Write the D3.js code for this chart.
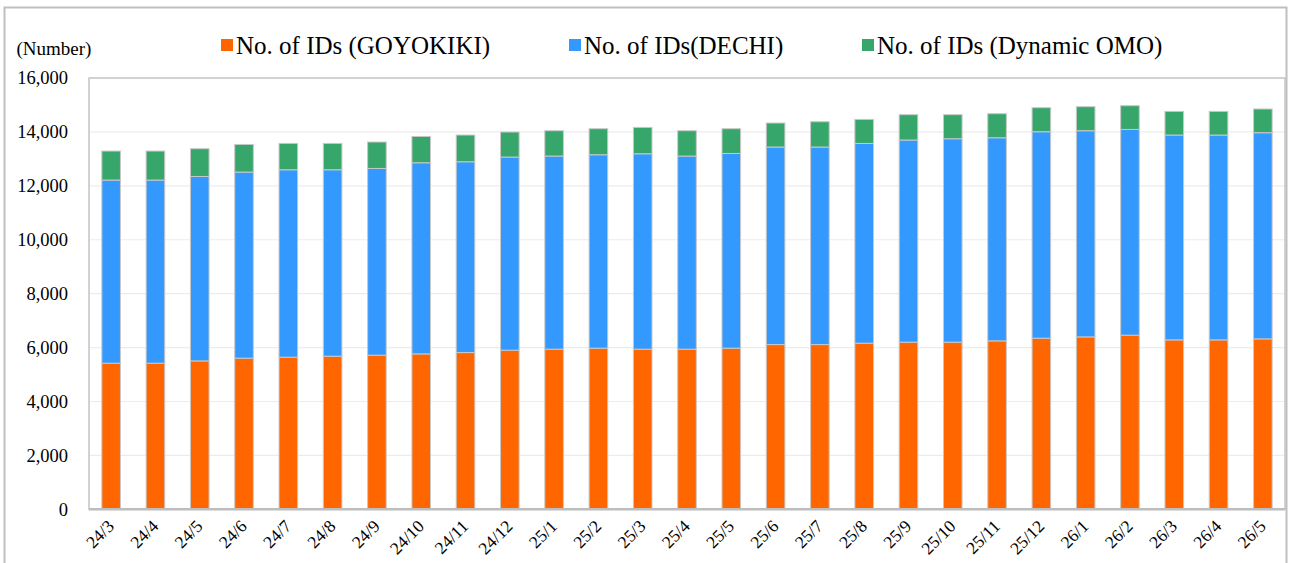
<!DOCTYPE html>
<html><head><meta charset="utf-8">
<script src="https://cdn.jsdelivr.net/npm/d3@7"></script>
<style>body{margin:0;background:#fff}svg{display:block}</style>
</head><body>
<svg id="c" width="1290" height="563"></svg>
<script>
const categories = ["24/3","24/4","24/5","24/6","24/7","24/8","24/9","24/10","24/11","24/12","25/1","25/2","25/3","25/4","25/5","25/6","25/7","25/8","25/9","25/10","25/11","25/12","26/1","26/2","26/3","26/4","26/5"];
const goyokiki = [5420,5420,5505,5606,5643,5680,5717,5765,5814,5903,5940,5977,5940,5940,5977,6111,6111,6163,6200,6200,6248,6348,6396,6460,6285,6285,6322];
const dechi    = [6794,6794,6842,6905,6953,6916,6927,7091,7079,7165,7165,7176,7250,7165,7224,7328,7328,7410,7499,7547,7536,7659,7648,7632,7599,7599,7648];
const dynamicOmo = [1076,1076,1029,1024,977,977,981,976,991,928,939,965,977,939,917,891,939,891,939,891,891,891,891,880,877,877,880];
const seriesNames = ["No. of IDs (GOYOKIKI)","No. of IDs(DECHI)","No. of IDs (Dynamic OMO)"];
const colors = ["#FF6600","#3399FF","#37A66B"];
const yTicks = [0,2000,4000,6000,8000,10000,12000,14000,16000];
const yUnit = "(Number)";

const SERIF = "Liberation Serif, Tinos, Times New Roman, DejaVu Serif, serif";
const svg = d3.select("#c");
const L=89, T=78, R=1285, B=509.3;

svg.append("rect").attr("x",4.5).attr("y",7.5).attr("width",1282).attr("height",570)
  .attr("fill","none").attr("stroke","#bfbfbf").attr("stroke-width",2);

const x = d3.scaleBand().domain(categories).range([L,R]).paddingInner(0.58).paddingOuter(0.29);
const y = d3.scaleLinear().domain([0,16000]).range([B,T]);

svg.append("g").selectAll("line").data(yTicks.filter(t=>t>0&&t<16000)).join("line")
  .attr("x1",L).attr("x2",R).attr("y1",d=>y(d)).attr("y2",d=>y(d))
  .attr("stroke","#ececec").attr("stroke-width",1.2);

svg.append("rect").attr("x",L).attr("y",T).attr("width",R-L).attr("height",B-T)
  .attr("fill","none").attr("stroke","#c4c4c4").attr("stroke-width",1.5);

const rows = categories.map((c,i)=>({cat:c, g:goyokiki[i], d:dechi[i], o:dynamicOmo[i]}));
const stack = d3.stack().keys(["g","d","o"])(rows);

svg.append("g").selectAll("g").data(stack).join("g")
  .attr("fill",(d,i)=>colors[i])
  .selectAll("rect").data(d=>d).join("rect")
  .attr("x",d=>x(d.data.cat)).attr("width",x.bandwidth())
  .attr("y",d=>y(d[1])).attr("height",d=>y(d[0])-y(d[1]))
  .attr("stroke","#c8c8c8").attr("stroke-width",1);

svg.append("line").attr("x1",L).attr("x2",R).attr("y1",B).attr("y2",B)
  .attr("stroke","#bdbdbd").attr("stroke-width",2.5);

const yAxis = d3.axisLeft(y).tickValues(yTicks).tickFormat(d3.format(",")).tickSize(0).tickPadding(21);
const ya = svg.append("g").attr("transform",`translate(${L},0)`).call(yAxis)
  .attr("font-family",SERIF).attr("font-size",18.5);
ya.select(".domain").remove();
ya.selectAll("text").attr("fill","#000");

const xAxis = d3.axisBottom(x).tickSize(0).tickPadding(0);
const xa = svg.append("g").attr("transform",`translate(0,${B})`).call(xAxis)
  .attr("font-family",SERIF).attr("font-size",17.5);
xa.select(".domain").remove();
xa.selectAll("text").attr("fill","#000")
  .attr("text-anchor","end").attr("dy",null).attr("y",null)
  .attr("transform","translate(4,18) rotate(-45)");

svg.append("text").attr("x",16.5).attr("y",55).attr("font-family",SERIF).attr("font-size",19).text(yUnit);

const legX = [221, 569, 862];
const leg = svg.append("g").attr("font-family",SERIF).attr("font-size",25)
  .selectAll("g").data(seriesNames).join("g")
  .attr("transform",(d,i)=>`translate(${legX[i]},0)`);
leg.append("rect").attr("x",0).attr("y",39).attr("width",12).attr("height",12).attr("fill",(d,i)=>colors[i]);
leg.append("text").attr("x",15).attr("y",54).text(d=>d);
</script>
</body></html>
